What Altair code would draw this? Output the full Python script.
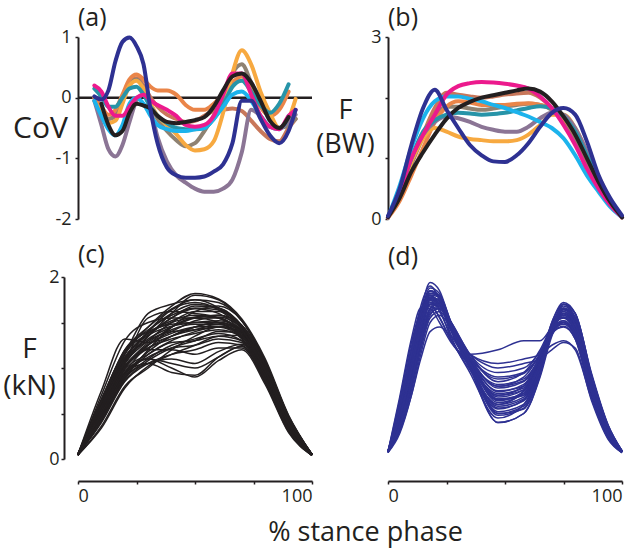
import altair as alt
import pandas as pd

INK = "#231f20"
NAVY = "#2e3192"
FONT = "Open Sans"

# ---------------- panel (a): CoV ----------------
a_x = [7, 10, 13, 16, 19, 22, 25, 28, 31, 34, 38, 42, 46, 50, 54, 58, 62, 66, 70, 74, 78, 82, 86, 90, 93]
a_salmon = [0.0, -0.2, -0.35, -0.3, 0.0, 0.25, 0.32, 0.2, 0.0, -0.15, -0.28, -0.35, -0.4, -0.38, -0.3, -0.22, -0.2, -0.18, -0.22, -0.38, -0.55, -0.68, -0.72, -0.5, -0.35]
a_taupe = [0.0, -0.2, -0.35, -0.3, 0.0, 0.25, 0.3, 0.15, -0.1, -0.35, -0.55, -0.7, -0.8, -0.75, -0.55, -0.3, 0.0, 0.4, 0.55, 0.25, -0.1, -0.35, -0.5, -0.45, -0.35]
a_darkorange = [0.0, -0.15, -0.28, -0.2, 0.05, 0.3, 0.38, 0.3, 0.18, 0.12, 0.12, 0.05, -0.12, -0.2, -0.2, -0.1, 0.05, 0.25, 0.35, 0.15, -0.15, -0.3, -0.2, 0.1, None]
a_lightorange = [-0.05, -0.25, -0.42, -0.38, -0.1, 0.2, 0.28, 0.15, -0.1, -0.3, -0.45, -0.6, -0.78, -0.87, -0.85, -0.72, -0.25, 0.4, 0.78, 0.55, 0.1, -0.25, -0.5, -0.35, -0.02]
a_mauve = [-0.05, -0.45, -0.85, -0.97, -0.78, -0.4, -0.05, 0.05, -0.2, -0.65, -1.05, -1.28, -1.4, -1.5, -1.55, -1.55, -1.5, -1.35, -0.9, -0.2, -0.3, -0.48, -0.5, -0.4, -0.28]
a_teal = [0.15, 0.02, -0.15, -0.15, 0.0, 0.15, 0.18, 0.05, -0.15, -0.3, -0.42, -0.5, -0.52, -0.52, -0.5, -0.35, -0.12, 0.18, 0.28, 0.1, -0.12, -0.25, -0.1, 0.22, None]
a_cyan = [-0.05, -0.3, -0.52, -0.62, -0.45, -0.1, 0.0, -0.1, -0.3, -0.45, -0.52, -0.55, -0.55, -0.52, -0.5, -0.35, -0.15, 0.05, 0.1, -0.05, -0.3, -0.48, -0.52, -0.3, None]
a_magenta = [0.2, 0.1, -0.15, -0.3, -0.3, -0.15, 0.0, 0.05, -0.05, -0.12, -0.2, -0.3, -0.45, -0.48, -0.45, -0.3, 0.05, 0.4, 0.4, 0.05, -0.3, -0.48, -0.52, -0.3, -0.2]
a_black = [None, -0.1, -0.45, -0.62, -0.55, -0.25, -0.1, -0.13, -0.18, -0.3, -0.4, -0.42, -0.4, -0.37, -0.32, -0.15, 0.12, 0.35, 0.4, 0.25, -0.05, -0.38, -0.5, -0.32, None]
a_navy = [0.02, -0.03, 0.12, 0.6, 0.92, 0.99, 0.85, 0.55, -0.2, -0.75, -1.15, -1.28, -1.32, -1.32, -1.3, -1.22, -1.1, -0.75, -0.05, -0.05, -0.35, -0.62, -0.75, -0.55, -0.2]

# ---------------- panel (b): F (BW) ----------------
b_x = [0, 5, 10, 15, 20, 25, 30, 35, 40, 45, 50, 55, 60, 65, 70, 75, 80, 85, 90, 95, 100]
b_salmon = [0.03, 0.4, 0.94, 1.4, 1.83, 2.08, 2.05, 2.02, 2.0, 2.02, 2.05, 2.07, 2.08, 2.0, 1.83, 1.58, 1.28, 0.89, 0.56, 0.25, 0.03]
b_taupe = [0.03, 0.38, 0.9, 1.35, 1.7, 1.85, 1.85, 1.82, 1.8, 1.82, 1.85, 1.88, 1.9, 1.88, 1.8, 1.6, 1.32, 0.92, 0.58, 0.26, 0.03]
b_darkorange = [0.02, 0.3, 0.72, 1.17, 1.6, 1.85, 1.94, 1.92, 1.88, 1.88, 1.88, 1.9, 1.91, 1.88, 1.83, 1.66, 1.39, 1.0, 0.61, 0.28, 0.02]
b_lightorange = [0.03, 0.4, 0.94, 1.33, 1.5, 1.44, 1.36, 1.32, 1.3, 1.28, 1.28, 1.3, 1.39, 1.55, 1.72, 1.72, 1.5, 1.11, 0.7, 0.31, 0.03]
b_mauve = [0.03, 0.45, 1.0, 1.39, 1.6, 1.69, 1.66, 1.6, 1.52, 1.47, 1.44, 1.44, 1.52, 1.66, 1.75, 1.72, 1.5, 1.11, 0.67, 0.31, 0.03]
b_teal = [0.03, 0.45, 1.0, 1.44, 1.63, 1.72, 1.75, 1.74, 1.72, 1.73, 1.75, 1.79, 1.83, 1.86, 1.83, 1.69, 1.44, 1.05, 0.67, 0.31, 0.03]
b_cyan = [0.03, 0.55, 1.17, 1.66, 1.94, 2.02, 2.02, 1.98, 1.94, 1.88, 1.83, 1.76, 1.69, 1.6, 1.5, 1.33, 1.05, 0.72, 0.45, 0.2, 0.03]
b_magenta = [0.03, 0.45, 1.0, 1.39, 1.72, 2.05, 2.19, 2.24, 2.26, 2.25, 2.23, 2.2, 2.15, 2.02, 1.83, 1.55, 1.22, 0.83, 0.5, 0.23, 0.03]
b_black = [0.03, 0.35, 0.78, 1.1, 1.39, 1.65, 1.83, 1.93, 2.0, 2.04, 2.08, 2.12, 2.15, 2.1, 1.94, 1.69, 1.39, 1.0, 0.61, 0.28, 0.03]
b_navy = [0.05, 0.5, 1.22, 1.83, 2.13, 1.8, 1.5, 1.22, 1.05, 0.95, 0.94, 1.05, 1.25, 1.52, 1.75, 1.83, 1.72, 1.28, 0.72, 0.34, 0.06]

# ---------------- panel (c): F (kN), black trials ----------------
c_x = [0, 10, 20, 30, 40, 50, 60, 70, 80, 90, 100]
c_rows = [
    [0.05, 0.55, 1.05, 1.35, 1.55, 1.65, 1.60, 1.40, 1.00, 0.42, 0.05],
    [0.04, 0.50, 0.95, 1.25, 1.45, 1.55, 1.55, 1.38, 0.96, 0.38, 0.05],
    [0.05, 0.60, 1.10, 1.40, 1.60, 1.70, 1.66, 1.47, 1.05, 0.45, 0.05],
    [0.05, 0.45, 0.90, 1.15, 1.30, 1.40, 1.45, 1.32, 0.90, 0.34, 0.04],
    [0.06, 0.65, 1.20, 1.45, 1.65, 1.75, 1.72, 1.52, 1.08, 0.47, 0.05],
    [0.05, 0.40, 0.85, 1.05, 1.15, 1.20, 1.28, 1.25, 0.85, 0.31, 0.04],
    [0.05, 0.70, 1.30, 1.50, 1.55, 1.55, 1.50, 1.33, 0.92, 0.37, 0.05],
    [0.04, 0.50, 1.00, 1.20, 1.20, 1.15, 1.22, 1.22, 0.84, 0.30, 0.04],
    [0.05, 0.55, 1.05, 1.30, 1.50, 1.62, 1.62, 1.45, 1.00, 0.41, 0.05],
    [0.05, 0.60, 1.15, 1.60, 1.70, 1.75, 1.66, 1.44, 1.00, 0.40, 0.05],
    [0.05, 0.45, 0.95, 1.10, 1.00, 0.90, 1.08, 1.20, 0.82, 0.29, 0.04],
    [0.05, 0.50, 0.95, 1.05, 0.95, 0.92, 1.12, 1.24, 0.86, 0.32, 0.05],
    [0.04, 0.36, 0.80, 1.00, 1.20, 1.35, 1.45, 1.40, 1.02, 0.44, 0.05],
    [0.05, 0.62, 1.12, 1.38, 1.52, 1.58, 1.55, 1.40, 0.97, 0.40, 0.05],
    [0.05, 0.52, 1.00, 1.28, 1.42, 1.48, 1.48, 1.35, 0.94, 0.38, 0.05],
    [0.06, 0.58, 1.08, 1.35, 1.60, 1.80, 1.75, 1.52, 1.07, 0.46, 0.05],
    [0.05, 0.48, 0.92, 1.18, 1.35, 1.45, 1.50, 1.40, 0.98, 0.40, 0.05],
    [0.05, 0.42, 0.88, 1.10, 1.25, 1.32, 1.38, 1.30, 0.90, 0.35, 0.04],
    [0.05, 0.66, 1.18, 1.42, 1.58, 1.66, 1.64, 1.46, 1.02, 0.43, 0.05],
    [0.04, 0.56, 1.02, 1.26, 1.40, 1.52, 1.56, 1.44, 1.02, 0.42, 0.05],
    [0.05, 0.75, 1.32, 1.28, 1.35, 1.45, 1.50, 1.38, 0.96, 0.40, 0.05],
    [0.05, 0.52, 1.05, 1.55, 1.62, 1.60, 1.55, 1.38, 0.95, 0.39, 0.05],
    [0.05, 0.46, 0.90, 1.05, 1.10, 1.05, 1.18, 1.26, 0.88, 0.33, 0.04],
    [0.05, 0.60, 1.10, 1.32, 1.45, 1.55, 1.58, 1.47, 1.06, 0.46, 0.05],
    [0.05, 0.54, 1.02, 1.22, 1.32, 1.38, 1.42, 1.34, 0.93, 0.36, 0.05],
    [0.05, 0.42, 0.88, 1.20, 1.45, 1.62, 1.68, 1.52, 1.08, 0.47, 0.05],
    [0.04, 0.62, 1.15, 1.45, 1.68, 1.82, 1.76, 1.54, 1.10, 0.48, 0.05],
    [0.05, 0.50, 0.98, 1.15, 1.28, 1.30, 1.35, 1.30, 0.92, 0.36, 0.05],
    [0.05, 0.57, 1.08, 1.30, 1.40, 1.42, 1.45, 1.38, 0.98, 0.40, 0.05],
    [0.05, 0.34, 0.78, 1.02, 1.15, 1.25, 1.35, 1.36, 0.99, 0.42, 0.05],
    [0.05, 0.64, 1.20, 1.40, 1.48, 1.50, 1.50, 1.40, 0.99, 0.41, 0.05],
    [0.05, 0.50, 1.02, 1.25, 1.38, 1.45, 1.46, 1.36, 0.96, 0.39, 0.05],
    [0.05, 0.55, 1.05, 1.35, 1.55, 1.68, 1.66, 1.46, 1.01, 0.42, 0.05],
    [0.04, 0.47, 0.93, 1.12, 1.22, 1.25, 1.32, 1.28, 0.88, 0.33, 0.04],
    [0.05, 0.60, 1.12, 1.36, 1.46, 1.50, 1.52, 1.42, 1.00, 0.42, 0.05],
    [0.05, 0.53, 1.00, 1.22, 1.35, 1.42, 1.48, 1.40, 0.99, 0.41, 0.05],
    [0.05, 0.44, 0.86, 1.08, 1.22, 1.30, 1.40, 1.38, 1.00, 0.43, 0.05],
    [0.05, 0.58, 1.06, 1.40, 1.64, 1.72, 1.64, 1.42, 0.97, 0.39, 0.05],
    [0.05, 0.50, 0.96, 1.10, 1.05, 1.00, 1.12, 1.24, 0.87, 0.32, 0.04],
    [0.05, 0.63, 1.16, 1.38, 1.50, 1.56, 1.58, 1.46, 1.03, 0.44, 0.05],
]

# ---------------- panel (d): blue trials ----------------
d_x = [0, 5, 10, 14, 18, 22, 27, 35, 47, 58, 65, 70, 75, 80, 87, 94, 100]
d_rows = [
    [0.08, 0.45, 1.00, 1.50, 1.80, 1.70, 1.40, 1.00, 0.60, 0.75, 1.10, 1.45, 1.60, 1.45, 0.80, 0.30, 0.08],
    [0.08, 0.40, 0.90, 1.40, 1.75, 1.72, 1.45, 1.05, 0.70, 0.80, 1.15, 1.45, 1.55, 1.40, 0.76, 0.28, 0.08],
    [0.07, 0.58, 1.20, 1.68, 1.90, 1.75, 1.35, 0.95, 0.45, 0.60, 1.00, 1.40, 1.65, 1.52, 0.86, 0.33, 0.08],
    [0.08, 0.35, 0.80, 1.25, 1.60, 1.65, 1.45, 1.10, 0.80, 0.90, 1.15, 1.40, 1.50, 1.35, 0.70, 0.25, 0.07],
    [0.09, 0.50, 1.05, 1.55, 1.85, 1.78, 1.42, 1.00, 0.55, 0.65, 1.05, 1.50, 1.70, 1.55, 0.88, 0.35, 0.08],
    [0.08, 0.30, 0.70, 1.10, 1.40, 1.45, 1.35, 1.15, 1.00, 1.05, 1.10, 1.20, 1.28, 1.22, 0.64, 0.22, 0.07],
    [0.08, 0.65, 1.28, 1.62, 1.70, 1.55, 1.30, 1.05, 0.75, 0.80, 1.10, 1.40, 1.50, 1.35, 0.74, 0.27, 0.08],
    [0.07, 0.42, 0.95, 1.45, 1.78, 1.74, 1.48, 1.10, 0.65, 0.70, 1.05, 1.42, 1.60, 1.48, 0.84, 0.32, 0.08],
    [0.08, 0.38, 0.85, 1.30, 1.65, 1.70, 1.50, 1.15, 0.85, 0.95, 1.20, 1.45, 1.55, 1.40, 0.78, 0.29, 0.08],
    [0.08, 0.48, 1.02, 1.50, 1.82, 1.80, 1.50, 1.08, 0.50, 0.55, 0.95, 1.38, 1.62, 1.50, 0.86, 0.34, 0.08],
    [0.08, 0.52, 1.10, 1.58, 1.88, 1.82, 1.45, 1.02, 0.40, 0.50, 0.90, 1.35, 1.60, 1.50, 0.87, 0.35, 0.09],
    [0.07, 0.32, 0.75, 1.20, 1.55, 1.62, 1.45, 1.12, 0.90, 0.95, 1.15, 1.38, 1.45, 1.32, 0.68, 0.24, 0.07],
    [0.08, 0.46, 1.00, 1.48, 1.76, 1.70, 1.42, 1.05, 0.72, 0.78, 1.10, 1.48, 1.65, 1.50, 0.84, 0.32, 0.08],
    [0.08, 0.60, 1.22, 1.64, 1.80, 1.65, 1.32, 0.98, 0.60, 0.68, 1.02, 1.42, 1.58, 1.44, 0.80, 0.30, 0.08],
    [0.08, 0.40, 0.88, 1.35, 1.70, 1.72, 1.50, 1.15, 1.20, 1.30, 1.30, 1.45, 1.60, 1.48, 0.82, 0.31, 0.08],
    [0.08, 0.44, 0.98, 1.46, 1.80, 1.78, 1.50, 1.08, 0.62, 0.72, 1.08, 1.50, 1.72, 1.60, 0.94, 0.38, 0.09],
    [0.08, 0.36, 0.82, 1.28, 1.62, 1.68, 1.48, 1.12, 0.78, 0.85, 1.12, 1.40, 1.50, 1.36, 0.72, 0.26, 0.08],
    [0.08, 0.50, 1.06, 1.55, 1.85, 1.80, 1.46, 1.04, 0.52, 0.60, 0.98, 1.44, 1.68, 1.56, 0.90, 0.36, 0.08],
    [0.08, 0.68, 1.32, 1.66, 1.65, 1.50, 1.28, 1.05, 0.82, 0.88, 1.12, 1.38, 1.46, 1.32, 0.70, 0.25, 0.08],
    [0.08, 0.42, 0.92, 1.40, 1.72, 1.70, 1.46, 1.08, 0.68, 0.76, 1.08, 1.44, 1.58, 1.44, 0.80, 0.30, 0.08],
    [0.08, 0.47, 1.00, 1.50, 1.78, 1.74, 1.44, 1.02, 0.58, 0.66, 1.02, 1.46, 1.66, 1.54, 0.88, 0.34, 0.08],
    [0.08, 0.34, 0.78, 1.22, 1.58, 1.66, 1.50, 1.15, 0.95, 1.00, 1.18, 1.40, 1.48, 1.34, 0.70, 0.25, 0.08],
    [0.09, 0.55, 1.14, 1.62, 1.94, 1.85, 1.48, 1.00, 0.40, 0.50, 0.92, 1.40, 1.70, 1.60, 0.92, 0.37, 0.09],
    [0.08, 0.40, 0.90, 1.38, 1.70, 1.68, 1.44, 1.10, 0.74, 0.82, 1.12, 1.44, 1.56, 1.42, 0.78, 0.29, 0.08],
    [0.08, 0.60, 1.22, 1.58, 1.68, 1.56, 1.30, 1.02, 0.70, 0.76, 1.05, 1.36, 1.50, 1.38, 0.74, 0.27, 0.08],
    [0.08, 0.45, 0.96, 1.44, 1.76, 1.74, 1.48, 1.10, 0.66, 0.70, 1.04, 1.46, 1.64, 1.52, 0.86, 0.33, 0.08],
    [0.07, 0.28, 0.70, 1.15, 1.50, 1.58, 1.45, 1.15, 1.05, 1.10, 1.15, 1.25, 1.30, 1.20, 0.66, 0.23, 0.07],
    [0.08, 0.50, 1.08, 1.56, 1.84, 1.76, 1.42, 1.00, 0.50, 0.58, 0.96, 1.42, 1.70, 1.60, 0.92, 0.37, 0.09],
    [0.08, 0.43, 0.94, 1.42, 1.74, 1.72, 1.46, 1.06, 0.64, 0.74, 1.06, 1.45, 1.62, 1.48, 0.83, 0.32, 0.08],
    [0.08, 0.38, 0.86, 1.32, 1.64, 1.66, 1.46, 1.10, 0.80, 0.86, 1.12, 1.42, 1.52, 1.38, 0.74, 0.27, 0.08],
    [0.08, 0.48, 1.04, 1.52, 1.82, 1.78, 1.44, 1.02, 0.48, 0.56, 0.94, 1.40, 1.64, 1.54, 0.88, 0.35, 0.08],
    [0.08, 0.55, 1.15, 1.60, 1.75, 1.62, 1.36, 1.04, 0.66, 0.72, 1.04, 1.42, 1.56, 1.42, 0.78, 0.29, 0.08],
    [0.08, 0.36, 0.84, 1.30, 1.66, 1.70, 1.48, 1.12, 0.88, 0.94, 1.16, 1.42, 1.52, 1.38, 0.74, 0.27, 0.08],
    [0.08, 0.46, 0.98, 1.46, 1.77, 1.75, 1.47, 1.06, 0.56, 0.64, 1.00, 1.44, 1.66, 1.56, 0.90, 0.36, 0.08],
]

series_order = ["salmon", "taupe", "darkorange", "lightorange", "mauve", "teal", "cyan", "magenta", "black", "navy"]
series_color = {
    "salmon": "#c8775a", "taupe": "#8f8272", "darkorange": "#ea8549", "lightorange": "#f7a940",
    "mauve": "#8b7595", "teal": "#2794a8", "cyan": "#1cb3ec", "magenta": "#ec1a8d",
    "black": INK, "navy": NAVY,
}
a_series = {"salmon": a_salmon, "taupe": a_taupe, "darkorange": a_darkorange, "lightorange": a_lightorange,
            "mauve": a_mauve, "teal": a_teal, "cyan": a_cyan, "magenta": a_magenta, "black": a_black, "navy": a_navy}
b_series = {"salmon": b_salmon, "taupe": b_taupe, "darkorange": b_darkorange, "lightorange": b_lightorange,
            "mauve": b_mauve, "teal": b_teal, "cyan": b_cyan, "magenta": b_magenta, "black": b_black, "navy": b_navy}


def long_series(xs, ys):
    return pd.DataFrame([{"x": x, "y": y} for x, y in zip(xs, ys) if y is not None])


def long_rows(xs, rows):
    recs = []
    for i, r in enumerate(rows):
        for x, y in zip(xs, r):
            recs.append({"id": i, "x": x, "y": y})
    return pd.DataFrame(recs)


def panel_title(text, offset):
    return alt.TitleParams(text, anchor="start", frame="group", offset=offset, fontSize=25)


W, H = 234, 182
xscale = alt.Scale(domain=[0, 100], nice=False, zero=False)
num_label = "datum.value < 0 ? '-' + toString(-datum.value) : toString(datum.value)"

# ----- (a)
ya = alt.Y("y:Q", scale=alt.Scale(domain=[-2, 1], nice=False), axis=alt.Axis(
    values=[-2, -1, 0, 1], labelExpr=num_label,
    title="CoV", titleAngle=0, titleX=-38, titleY=91, titleAlign="center", titleBaseline="middle",
    titleFontSize=30))
xa = alt.X("x:Q", scale=xscale, axis=None)
a_layers = [alt.Chart(pd.DataFrame({"y": [0]})).mark_rule(color=INK, strokeWidth=2.5).encode(y=ya)]
for n in series_order:
    a_layers.append(alt.Chart(long_series(a_x, a_series[n])).mark_line(
        color=series_color[n], strokeWidth=4, interpolate="monotone", strokeCap="round", strokeJoin="round"
    ).encode(x=xa, y=ya))
panel_a = alt.layer(*a_layers).properties(width=W, height=H, title=panel_title("(a)", -3))

# ----- (b)
yb = alt.Y("y:Q", scale=alt.Scale(domain=[0, 3], nice=False), axis=alt.Axis(
    values=[0, 1, 2, 3],
    labelExpr="datum.value == 0 || datum.value == 3 ? toString(datum.value) : ''",
    title=["F", "(BW)"], titleAngle=0, titleX=-43, titleY=73, titleAlign="center", titleBaseline="middle",
    titleFontSize=27, titleLineHeight=34))
b_layers = []
for n in series_order:
    b_layers.append(alt.Chart(long_series(b_x, b_series[n])).mark_line(
        color=series_color[n], strokeWidth=4, interpolate="monotone", strokeCap="round", strokeJoin="round"
    ).encode(x=alt.X("x:Q", scale=xscale, axis=None), y=yb))
panel_b = alt.layer(*b_layers).properties(width=W, height=H, title=panel_title("(b)", -3))

# ----- (c) and (d)
x_bottom = alt.Axis(values=[0, 25, 50, 75, 100],
                    labelExpr="datum.value == 0 || datum.value == 100 ? toString(datum.value) : ''",
                    labelFlush=True, offset=22, labelPadding=3, title=None)
x_bottom_c = alt.Axis(values=[0, 25, 50, 75, 100],
                      labelExpr="datum.value == 0 || datum.value == 100 ? toString(datum.value) : ''",
                      labelFlush=True, offset=22, labelPadding=3,
                      title="% stance phase", titleX=287, titleY=51, titleAlign="center",
                      titleBaseline="middle", titleFontSize=27)
yc = alt.Y("y:Q", scale=alt.Scale(domain=[0, 2], nice=False), axis=alt.Axis(
    values=[0, 0.5, 1, 1.5, 2],
    labelExpr="datum.value == 0 || datum.value == 2 ? toString(datum.value) : ''",
    offset=14, labelPadding=2,
    title=["F", "(kN)"], titleAngle=0, titleX=-35, titleY=72, titleAlign="center", titleBaseline="middle",
    titleFontSize=28, titleLineHeight=37))
panel_c = alt.Chart(long_rows(c_x, c_rows)).mark_line(
    color=INK, strokeWidth=1.5, interpolate="monotone"
).encode(x=alt.X("x:Q", scale=xscale, axis=x_bottom_c), y=yc, detail="id:N").properties(
    width=W, height=H, title=panel_title("(c)", 0))

panel_d = alt.Chart(long_rows(d_x, d_rows)).mark_line(
    color=NAVY, strokeWidth=1.5, interpolate="monotone"
).encode(x=alt.X("x:Q", scale=xscale, axis=x_bottom),
         y=alt.Y("y:Q", scale=alt.Scale(domain=[0, 2], nice=False), axis=None),
         detail="id:N").properties(
    width=W, height=H, title=panel_title("(d)", 7))

chart = alt.concat(panel_a, panel_b, panel_c, panel_d, columns=2,
                   spacing=alt.RowColnumber(row=58, column=76), bounds="flush").properties(
    padding={"left": 2, "top": 6, "right": 0, "bottom": 8}
).configure_view(stroke=None).configure_axis(
    grid=False, domainColor=INK, domainWidth=2, tickColor=INK, tickWidth=1.5, tickSize=3,
    labelColor=INK, labelFont=FONT, labelFontSize=18, labelPadding=4,
    titleColor=INK, titleFont=FONT, titleFontWeight="normal"
).configure_title(font=FONT, fontSize=25, fontWeight="normal", color=INK, anchor="start")

chart.save("out.html", embed_options={"renderer": "svg", "actions": False})
